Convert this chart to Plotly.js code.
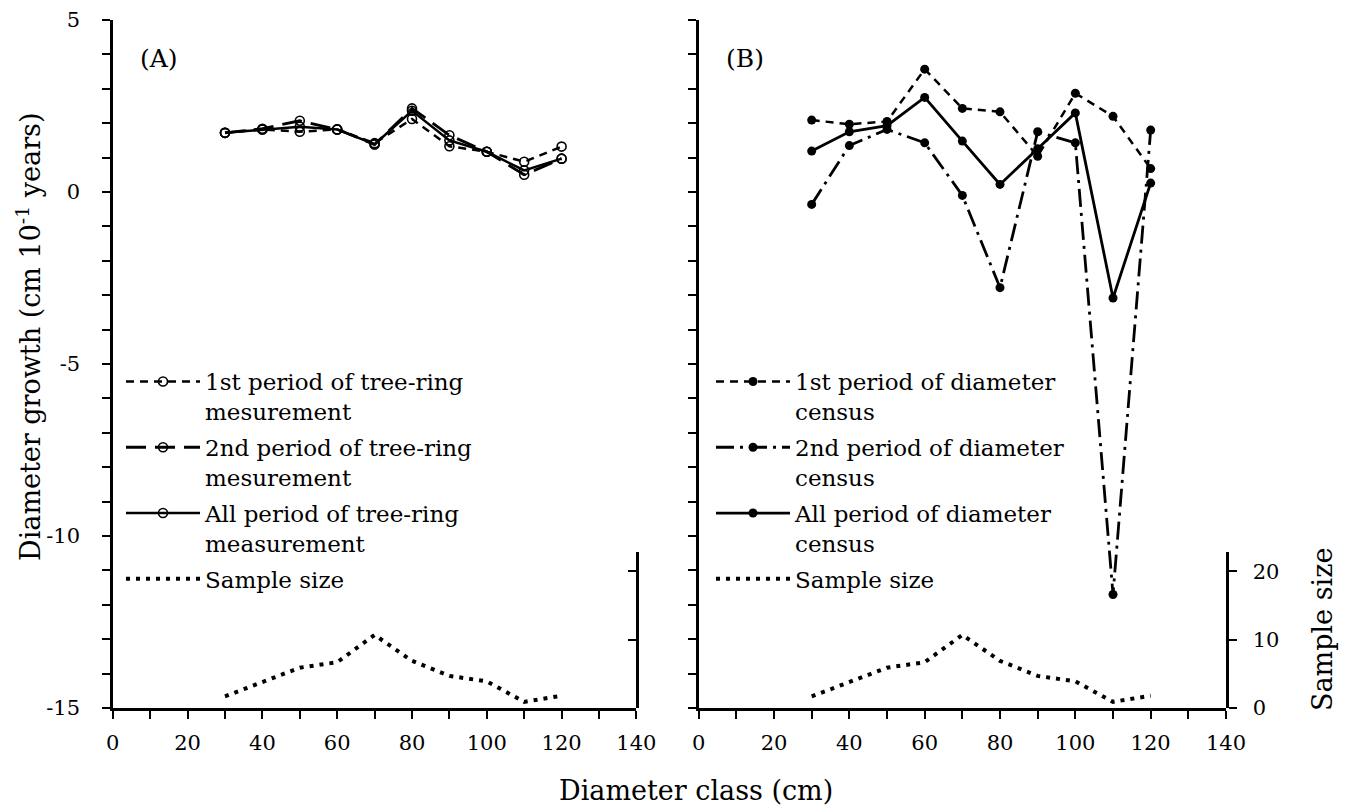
<!DOCTYPE html>
<html>
<head>
<meta charset="utf-8">
<script src="https://cdn.plot.ly/plotly-3.0.1.min.js"></script>
<style>html,body{margin:0;padding:0;background:#fff;}#chart{width:1351px;height:810px;}</style>
</head>
<body>
<div id="chart"></div>
<script>
// ---- data ----
const diameterClass = [30, 40, 50, 60, 70, 80, 90, 100, 110, 120];
const treeRing1st   = [1.72, 1.82, 1.75, 1.82, 1.42, 2.12, 1.33, 1.17, 0.88, 1.32];
const treeRing2nd   = [1.72, 1.84, 2.07, 1.82, 1.38, 2.43, 1.65, 1.17, 0.50, 0.97];
const treeRingAll   = [1.72, 1.82, 1.90, 1.82, 1.39, 2.36, 1.50, 1.17, 0.63, 0.97];
const census1st     = [2.09, 1.97, 2.05, 3.57, 2.43, 2.33, 1.04, 2.87, 2.20, 0.68];
const census2nd     = [-0.36, 1.35, 1.82, 1.43, -0.10, -2.78, 1.75, 1.43, -11.70, 1.80];
const censusAll     = [1.19, 1.75, 1.93, 2.75, 1.48, 0.22, 1.26, 2.30, -3.08, 0.26];
const sampleSize    = [1.7, 3.8, 5.9, 6.7, 10.7, 6.9, 4.7, 3.9, 0.9, 1.8];

const growthTicks = [-15,-14,-13,-12,-11,-10,-9,-8,-7,-6,-5,-4,-3,-2,-1,0,1,2,3,4,5];
const growthTickText = growthTicks.map(v => (v % 5 === 0 ? String(v) : ''));
const classTicks = [0,10,20,30,40,50,60,70,80,90,100,110,120,130,140];
const classTickText = classTicks.map(v => (v % 20 === 0 ? String(v) : ''));
const sampleTicks = [0, 10, 20];

// ---- styling ----
const SERIF = 'DejaVu Serif, Liberation Serif, serif';
const W = 1351, H = 810;
const px = v => v / W, py = v => 1 - v / H;

let groupId = 0;
function line(x, y, xa, ya, name, dash, width, marker, legend) {
  const t = {
    type: 'scatter', mode: marker ? 'lines+markers' : 'lines',
    x: x, y: y, xaxis: xa, yaxis: ya, name: name, legend: legend,
    legendgroup: 'g' + (groupId++),
    line: {color: '#000', width: width, dash: dash},
    hoverinfo: 'skip'
  };
  if (marker) t.marker = marker;
  return t;
}
const openM = {symbol: 'circle-open', size: 9, color: '#000', line: {width: 1.6, color: '#000'}};
const fillM = {symbol: 'circle', size: 9, color: '#000'};

const traces = [
  line(diameterClass, treeRing1st, 'x', 'y', '1st period of tree-ring<br>mesurement', '8px,6px', 2.5, openM, 'legend'),
  line(diameterClass, treeRing2nd, 'x', 'y', '2nd period of tree-ring<br>mesurement', '20px,9px', 2.8, openM, 'legend'),
  line(diameterClass, treeRingAll, 'x', 'y', 'All period of tree-ring<br>measurement', 'solid', 2.5, openM, 'legend'),
  line(diameterClass, sampleSize, 'x', 'y3', 'Sample size', '4px,6px', 4, null, 'legend'),
  line(diameterClass, census1st, 'x2', 'y2', '1st period of diameter<br>census', '8px,6px', 2.5, fillM, 'legend2'),
  line(diameterClass, census2nd, 'x2', 'y2', '2nd period of diameter<br>census', '18px,6px,3px,6px', 2.8, fillM, 'legend2'),
  line(diameterClass, censusAll, 'x2', 'y2', 'All period of diameter<br>census', 'solid', 2.8, fillM, 'legend2'),
  line(diameterClass, sampleSize, 'x2', 'y4', 'Sample size', '4px,6px', 4, null, 'legend2')
];

const tickFont = {family: SERIF, size: 21, color: '#000'};
function xAxis(domain, anchor) {
  return {
    domain: domain, anchor: anchor, range: [0, 140], tickmode: 'array',
    tickvals: classTicks, ticktext: classTickText, ticks: 'outside', ticklen: 8, tickwidth: 2,
    showline: true, linewidth: 2.5, linecolor: '#000', tickcolor: '#000',
    showgrid: false, zeroline: false, tickfont: tickFont, ticklabelstandoff: 6, fixedrange: true
  };
}
function yAxis(anchor, labels) {
  return {
    domain: [py(708), py(20)], anchor: anchor, range: [-15, 5], tickmode: 'array',
    tickvals: growthTicks, ticktext: growthTickText, ticks: 'outside', ticklen: 8, tickwidth: 2,
    showline: true, linewidth: 2.5, linecolor: '#000', tickcolor: '#000', showticklabels: labels,
    showgrid: false, zeroline: false, tickfont: tickFont, ticklabelstandoff: 18, fixedrange: true
  };
}
const sampleTop = (708 - 552) / 6.83;
function sAxis(anchor, labels, ticks) {
  return {
    domain: [py(708), py(552)], anchor: anchor, side: 'right', range: [0, sampleTop],
    tickmode: 'array', tickvals: sampleTicks, ticks: ticks, ticklen: 8, tickwidth: 2,
    showline: true, linewidth: 2.5, linecolor: '#000', tickcolor: '#000', showticklabels: labels,
    showgrid: false, zeroline: false, tickfont: tickFont, ticklabelstandoff: 12, fixedrange: true
  };
}

const legendFont = {family: SERIF, size: 23, color: '#000'};
const titleFont = {family: SERIF, size: 27, color: '#000'};
function ann(text, x, y, angle, font) {
  return {text: text, x: px(x), y: py(y), xref: 'paper', yref: 'paper', showarrow: false,
          xanchor: 'center', yanchor: 'middle', textangle: angle, font: font};
}
const layout = {
  width: W, height: H, margin: {l: 0, r: 0, t: 0, b: 0},
  paper_bgcolor: '#fff', plot_bgcolor: 'rgba(0,0,0,0)',
  showlegend: true,
  xaxis: xAxis([px(112.8), px(636.4)], 'y'),
  xaxis2: xAxis([px(698.7), px(1226)], 'y2'),
  yaxis: yAxis('x', true),
  yaxis2: yAxis('x2', false),
  yaxis3: sAxis('x', false, 'inside'),
  yaxis4: sAxis('x2', true, 'outside'),
  legend: {x: px(121), y: py(360), xanchor: 'left', yanchor: 'top', font: legendFont,
           itemwidth: 74, valign: 'top', bgcolor: 'rgba(0,0,0,0)', tracegroupgap: 3},
  legend2: {x: px(711), y: py(360), xanchor: 'left', yanchor: 'top', font: legendFont,
           itemwidth: 74, valign: 'top', bgcolor: 'rgba(0,0,0,0)', tracegroupgap: 3},
  annotations: [
    ann('(A)', 159, 58, 0, {family: SERIF, size: 25, color: '#000'}),
    ann('(B)', 745, 58, 0, {family: SERIF, size: 25, color: '#000'}),
    ann('Diameter growth (cm 10<sup>-1</sup> years)', 28, 337, -90, titleFont),
    ann('Diameter class (cm)', 696, 790, 0, titleFont),
    ann('Sample size', 1322, 630, -90, titleFont)
  ]
};

Plotly.newPlot('chart', traces, layout, {displayModeBar: false, staticPlot: true});
</script>
</body>
</html>
